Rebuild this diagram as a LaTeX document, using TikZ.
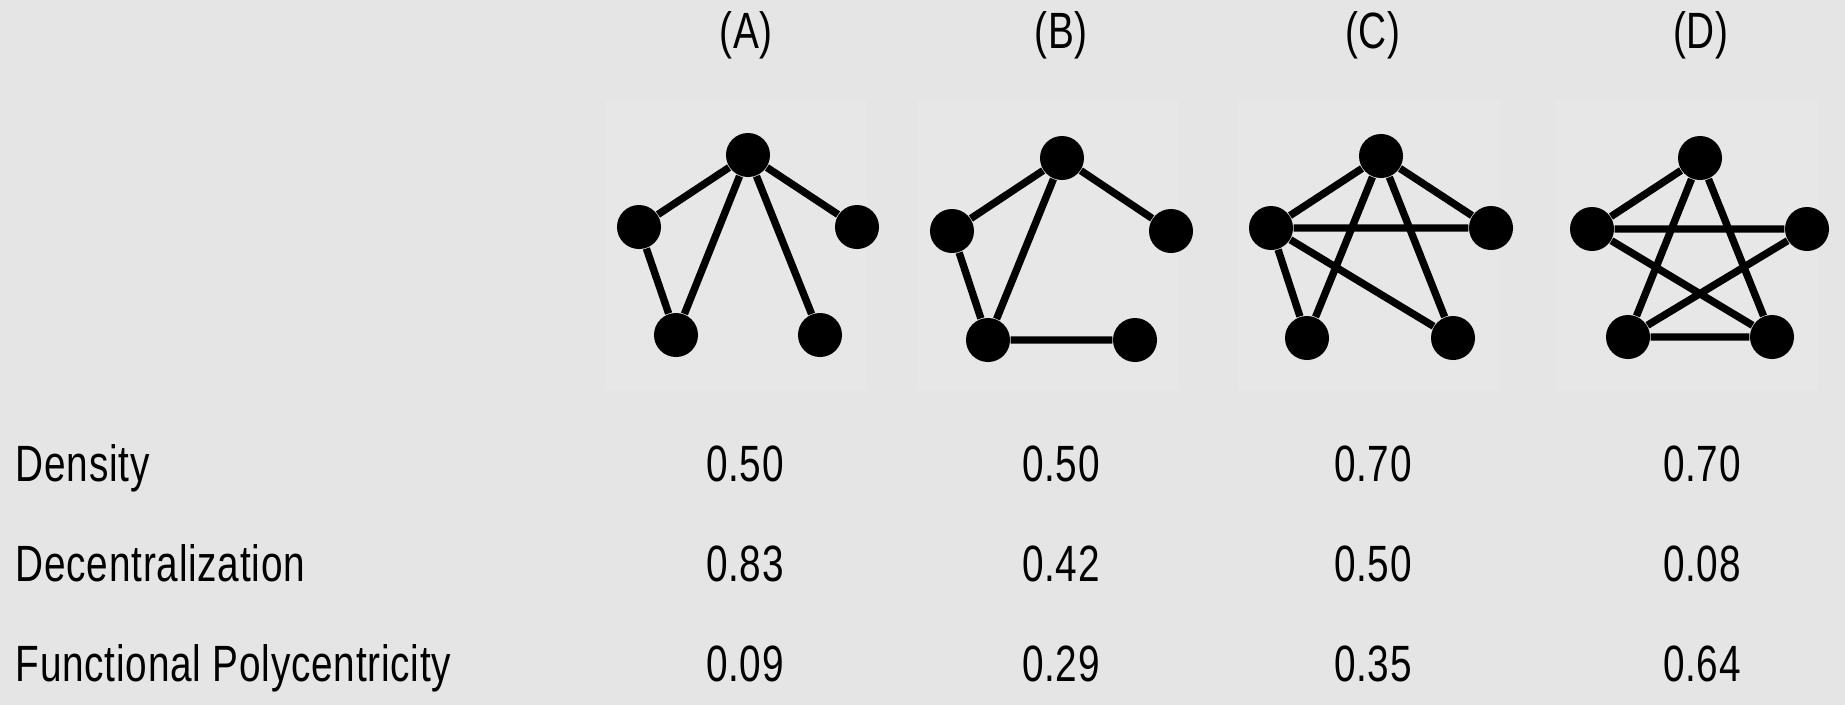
\documentclass[tikz,border=0pt]{standalone}
\usepackage{fontspec}
\setmainfont{Liberation Sans}[FakeStretch=0.76, LetterSpace=1.5]
\usepackage{tikz}
\usetikzlibrary{positioning}
\definecolor{bgcol}{HTML}{E5E5E5}
\definecolor{panelcol}{HTML}{E7E7E7}
\tikzset{
  dot/.style={circle, fill=black, inner sep=0pt, minimum size=0.44cm},
  link/.style={line width=2.1pt},
  lbl/.style={anchor=base west, inner sep=0pt, font=\fontsize{14.5}{17}\selectfont},
  val/.style={anchor=base, inner sep=0pt, font=\fontsize{14.5}{17}\selectfont}
}
\begin{document}
\begin{tikzpicture}[x=0.01cm, y=-0.01cm]
\fill[bgcol] (0,0) rectangle (1845,705);
\useasboundingbox (0,0) rectangle (1845,705);
\foreach \px in {605, 917, 1238, 1556} \fill[panelcol] (\px,100) rectangle ++(262,290);
% headers
\node[val] (ha) at (746,48) {(A)}; \node[val] (hb) at (1061,48) {(B)}; \node[val] (hc) at (1373,48) {(C)}; \node[val] (hd) at (1701,48) {(D)};
% graph A
\node[dot] (a1) at (748,155) {}; \node[dot] (a2) at (639,227) {}; \node[dot] (a3) at (857,227) {}; \node[dot] (a4) at (676,335) {}; \node[dot] (a5) at (820,335) {};
\draw[link] (a1) -- (a2) (a1) -- (a3) (a1) -- (a4) (a1) -- (a5) (a2) -- (a4);
% graph B
\node[dot] (b1) at (1062,158) {}; \node[dot] (b2) at (952,231) {}; \node[dot] (b3) at (1171,231) {}; \node[dot] (b4) at (988,340) {}; \node[dot] (b5) at (1135,340) {};
\draw[link] (b1) -- (b2) (b1) -- (b3) (b1) -- (b4) (b2) -- (b4) (b4) -- (b5);
% graph C
\node[dot] (c1) at (1381,156) {}; \node[dot] (c2) at (1271,228) {}; \node[dot] (c3) at (1491,228) {}; \node[dot] (c4) at (1307,338) {}; \node[dot] (c5) at (1453,338) {};
\draw[link] (c1) -- (c2) (c1) -- (c3) (c1) -- (c4) (c1) -- (c5) (c2) -- (c3) (c2) -- (c5) (c2) -- (c4);
% graph D
\node[dot] (d1) at (1700,158) {}; \node[dot] (d2) at (1592,229) {}; \node[dot] (d3) at (1807,229) {}; \node[dot] (d4) at (1628,337) {}; \node[dot] (d5) at (1772,337) {};
\draw[link] (d1) -- (d2) (d1) -- (d4) (d1) -- (d5) (d2) -- (d3) (d2) -- (d5) (d3) -- (d4) (d4) -- (d5);
% table rows
\node[lbl] (dens) at (15,481) {Density};
\node[lbl] (dec) at (15,581) {Decentralization};
\node[lbl] (poly) at (15,681) {Functional Polycentricity};
\node[val] at (745,481) {0.50}; \node[val] at (1061,481) {0.50}; \node[val] at (1373,481) {0.70}; \node[val] at (1702,481) {0.70};
\node[val] at (745,581) {0.83}; \node[val] at (1061,581) {0.42}; \node[val] at (1373,581) {0.50}; \node[val] at (1702,581) {0.08};
\node[val] at (745,681) {0.09}; \node[val] at (1061,681) {0.29}; \node[val] at (1373,681) {0.35}; \node[val] at (1702,681) {0.64};
\end{tikzpicture}
\end{document}
